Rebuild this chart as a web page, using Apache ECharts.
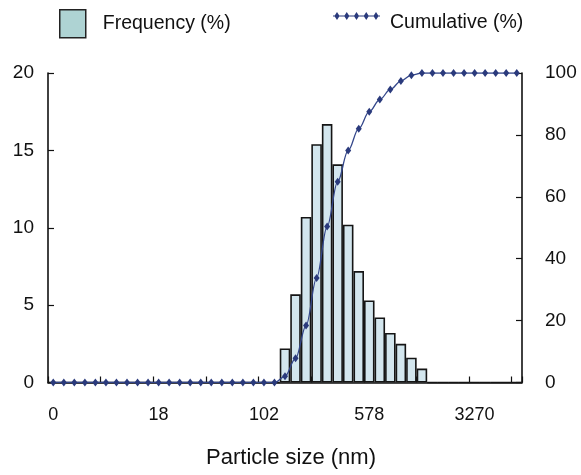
<!DOCTYPE html>
<html>
<head>
<meta charset="utf-8">
<script src="https://cdn.jsdelivr.net/npm/echarts@6/dist/echarts.min.js"></script>
<style>
html,body{margin:0;padding:0;background:#fff;}
#chart{width:581px;height:475px;}
</style>
</head>
<body>
<div id="chart"></div>
<script>
// Size-bin categories (45 log-spaced bins); only every 10th is labelled
const binCount = 45;
const categories = [];
for (let i = 0; i < binCount; i++) categories.push('bin' + i);
const tickLabels = ['0', '18', '102', '578', '3270'];
const labelEvery = 10;

// Frequency (%) per bin
const frequency = [
  0,0,0,0,0,0,0,0,0,0,
  0,0,0,0,0,0,0,0,0,0,
  0,0,2.2,5.7,10.7,15.4,16.7,14.1,10.2,7.2,
  5.3,4.2,3.2,2.5,1.6,0.9,0,0,0,0,
  0,0,0,0,0
];
// Cumulative (%) per bin
const cumulative = [
  0,0,0,0,0,0,0,0,0,0,
  0,0,0,0,0,0,0,0,0,0,
  0,0,2.0,7.8,18.4,33.8,50.4,64.9,75.0,82.0,
  87.5,91.4,94.7,97.4,99.3,100,100,100,100,100,
  100,100,100,100,100
];
const leftTicks = {min: 0, max: 20, interval: 5};
const rightTicks = {min: 0, max: 100, interval: 20};

const FONT = '"Liberation Sans", Arial, sans-serif';

const chart = echarts.init(document.getElementById('chart'), null, {renderer: 'canvas'});

// legend icon: line with five diamonds (drawn in upper part of the icon box)
let cumIcon = 'path://M0,3.6L47,3.6L47,4.4L0,4.4Z';
for (let k = 0; k < 5; k++) {
  const cx = 4 + k * 9.75;
  cumIcon += 'M' + (cx - 2.6) + ',4L' + cx + ',0L' + (cx + 2.6) + ',4L' + cx + ',8Z';
}
cumIcon += 'M0,22L0.01,22L0,21.99Z';

chart.setOption({
  animation: false,
  backgroundColor: '#ffffff',
  textStyle: {fontFamily: FONT},
  legend: [
    {
      left: 59, top: 9, padding: 0,
      itemWidth: 26, itemHeight: 28,
      textStyle: {fontSize: 19.5, color: '#111', fontFamily: FONT, padding: [0, 0, 0, 12]},
      data: [{name: 'Frequency (%)', icon: 'rect',
        itemStyle: {color: '#aed3d3', borderColor: '#222', borderWidth: 1.5}}]
    },
    {
      left: 333, top: 12, padding: 0,
      itemWidth: 47, itemHeight: 22,
      textStyle: {fontSize: 19.5, color: '#111', fontFamily: FONT, padding: [0, 0, 0, 5]},
      data: [{name: 'Cumulative (%)', icon: cumIcon, itemStyle: {color: '#2a3a7c'}}]
    }
  ],
  grid: {left: 48, right: 59, top: 73, bottom: 92.5, containLabel: false},
  xAxis: {
    type: 'category',
    data: categories,
    boundaryGap: true,
    name: 'Particle size (nm)',
    nameLocation: 'middle',
    nameGap: 64,
    nameTextStyle: {fontSize: 22, color: '#111', fontFamily: FONT, padding: [0, 0, 0, 12]},
    axisLine: {lineStyle: {color: '#111', width: 1.6}},
    axisTick: {show: true, inside: true, length: 6, interval: 4, lineStyle: {color: '#111', width: 1.2}},
    axisLabel: {
      interval: 0, margin: 24, fontSize: 18, color: '#111', fontFamily: FONT,
      formatter: function (v, i) { return i % labelEvery === 0 ? (tickLabels[i / labelEvery] || '') : ''; }
    },
    splitLine: {show: false}
  },
  yAxis: [
    {
      type: 'value', position: 'left',
      min: leftTicks.min, max: leftTicks.max, interval: leftTicks.interval,
      axisLine: {show: true, lineStyle: {color: '#111', width: 1.6}},
      axisTick: {show: true, inside: true, length: 6, lineStyle: {color: '#111', width: 1.2}},
      axisLabel: {margin: 14, fontSize: 19, color: '#111', fontFamily: FONT},
      splitLine: {show: false}
    },
    {
      type: 'value', position: 'right',
      min: rightTicks.min, max: rightTicks.max, interval: rightTicks.interval,
      axisLine: {show: true, lineStyle: {color: '#111', width: 1.6}},
      axisTick: {show: true, inside: true, length: 6, lineStyle: {color: '#111', width: 1.2}},
      axisLabel: {margin: 23, fontSize: 19, color: '#111', fontFamily: FONT},
      splitLine: {show: false}
    }
  ],
  series: [
    {
      name: 'Frequency (%)',
      type: 'bar',
      yAxisIndex: 0,
      data: frequency,
      barWidth: '100%',
      barCategoryGap: '0%',
      itemStyle: {color: '#d3e6ee', borderColor: '#151515', borderWidth: 1.6},
      z: 2
    },
    {
      name: 'Cumulative (%)',
      type: 'line',
      yAxisIndex: 1,
      data: cumulative,
      smooth: 0.35,
      smoothMonotone: 'x',
      symbol: 'diamond',
      symbolSize: [6, 8],
      showAllSymbol: true,
      lineStyle: {color: '#33468a', width: 1.3},
      itemStyle: {color: '#2a3a7c'},
      z: 3
    }
  ]
});
</script>
</body>
</html>
